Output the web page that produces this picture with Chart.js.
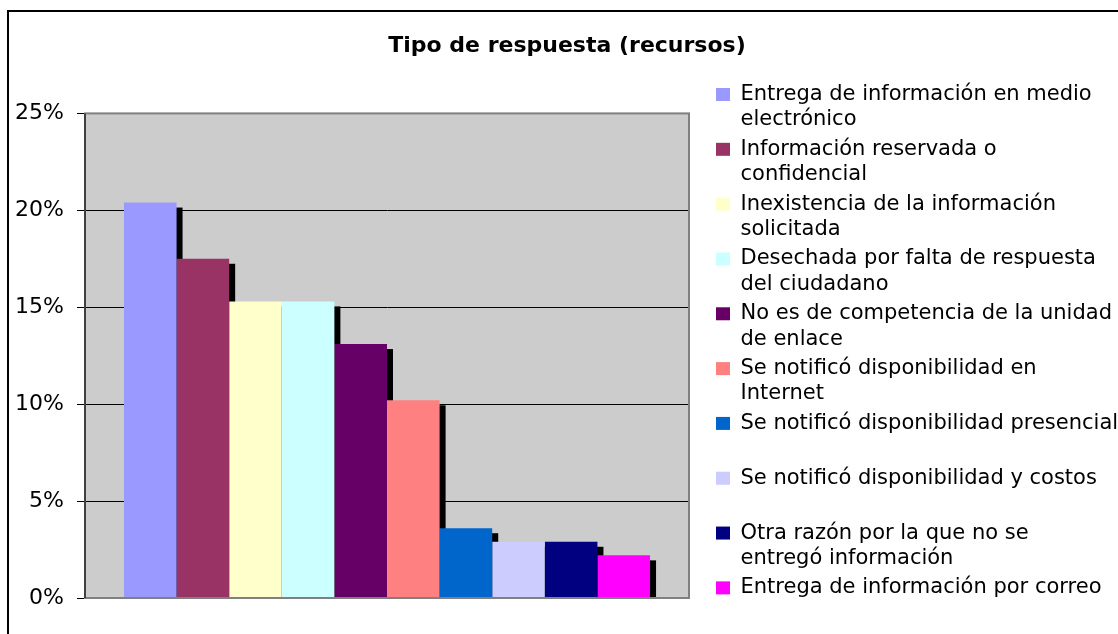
<!DOCTYPE html>
<html>
<head>
<meta charset="utf-8">
<script src="https://cdn.jsdelivr.net/npm/chart.js@4"></script>
<style>
  html, body { margin: 0; padding: 0; background: #fff; overflow: hidden; }
  canvas { display: block; }
</style>
</head>
<body>
<canvas id="chart" width="1134" height="634"></canvas>
<script>
const categories = [''];
const seriesNames = [
  ['Entrega de información en medio', 'electrónico'],
  ['Información reservada o', 'confidencial'],
  ['Inexistencia de la información', 'solicitada'],
  ['Desechada por falta de respuesta', 'del ciudadano'],
  ['No es de competencia de la unidad', 'de enlace'],
  ['Se notificó disponibilidad en', 'Internet'],
  ['Se notificó disponibilidad presencial', ''],
  ['Se notificó disponibilidad y costos', ''],
  ['Otra razón por la que no se', 'entregó información'],
  'Entrega de información por correo'
];
const seriesValues = [20.4, 17.5, 15.3, 15.3, 13.1, 10.2, 3.6, 2.9, 2.9, 2.2];
const seriesColors = ['#9999FF', '#993366', '#FFFFCC', '#CCFFFF', '#660066',
                      '#FF8080', '#0066CC', '#CCCCFF', '#000080', '#FF00FF'];
const yMin = 0, yMax = 25, yStep = 5;

const FONT = "'DejaVu Sans', Verdana, sans-serif";

// plot background + outer frame
const plotBack = {
  id: 'plotBack',
  beforeDraw(chart) {
    const {ctx, chartArea: a} = chart;
    ctx.save();
    ctx.strokeStyle = '#000';
    ctx.lineWidth = 2;
    ctx.strokeRect(8, 11, 3000, 3000);
    ctx.fillStyle = '#CCCCCC';
    ctx.fillRect(a.left, a.top, a.width, a.height);
    ctx.restore();
  },
  afterDatasetsDraw(chart) {
    const {ctx, chartArea: a} = chart;
    ctx.save();
    ctx.strokeStyle = '#808080';
    ctx.lineWidth = 2;
    ctx.strokeRect(a.left, a.top, a.width, a.height);
    ctx.strokeStyle = '#404040';
    ctx.beginPath();
    ctx.moveTo(a.left, a.top);
    ctx.lineTo(a.left, a.bottom);
    ctx.stroke();
    ctx.restore();
  }
};

// black drop shadow behind each bar, like the old Excel look
const barShadow = {
  id: 'barShadow',
  beforeDatasetsDraw(chart) {
    const {ctx, chartArea: a} = chart;
    ctx.save();
    ctx.beginPath();
    ctx.rect(a.left, a.top, a.width, a.height);
    ctx.clip();
    ctx.fillStyle = '#000';
    chart.data.datasets.forEach((ds, i) => {
      chart.getDatasetMeta(i).data.forEach(bar => {
        const p = bar.getProps(['x', 'y', 'base', 'width'], true);
        ctx.fillRect(p.x - p.width / 2 + 6, p.y + 5, p.width, p.base - p.y);
      });
    });
    ctx.restore();
  }
};

// fixed legend width so the text can run past the right edge
const legendWidth = {
  id: 'legendWidth',
  beforeInit(chart) {
    const fit = chart.legend.fit;
    chart.legend.fit = function () {
      fit.bind(chart.legend)();
      this.width = 422;
    };
  }
};

const datasets = seriesNames.map((name, i) => ({
  label: name,
  data: [seriesValues[i]],
  backgroundColor: seriesColors[i],
  borderWidth: 0
}));

new Chart(document.getElementById('chart'), {
  type: 'bar',
  data: { labels: categories, datasets: datasets },
  plugins: [legendWidth, plotBack, barShadow],
  options: {
    responsive: false,
    animation: false,
    devicePixelRatio: 1,
    categoryPercentage: 0.871,
    barPercentage: 1,
    plugins: {
      tooltip: { enabled: false },
      title: {
        display: true,
        text: 'Tipo de respuesta (recursos)',
        color: '#000',
        font: { family: FONT, size: 22, weight: 'bold', lineHeight: 1.2 },
        padding: { top: 33, bottom: 54 }
      },
      legend: {
        position: 'right',
        align: 'start',
        title: { display: true, text: '', font: { size: 10, lineHeight: 1 }, padding: { top: 70, bottom: 0 } },
        labels: {
          color: '#000',
          font: { family: FONT, size: 21, lineHeight: 1.21 },
          boxWidth: 14,
          boxHeight: 13,
          padding: 4
        }
      }
    },
    scales: {
      x: {
        display: true,
        grid: { display: false, drawTicks: false },
        ticks: { display: false },
        border: { display: false },
        afterFit(s) { s.height = 36; }
      },
      y: {
        min: yMin,
        max: yMax,
        ticks: {
          stepSize: yStep,
          color: '#000',
          padding: 13,
          font: { family: FONT, size: 22 },
          callback: v => v + '%'
        },
        grid: {
          color: c => (c.tick && (c.tick.value === yMin || c.tick.value === yMax)) ? 'rgba(0,0,0,0)' : '#000',
          tickColor: '#000',
          tickLength: 8,
          lineWidth: 1
        },
        border: { display: true, color: '#000', width: 1 },
        afterFit(s) { s.width = 85; }
      },
      y2: {
        position: 'right',
        display: true,
        grid: { display: false, drawTicks: false },
        ticks: { display: false },
        border: { display: false },
        afterFit(s) { s.width = 23; }
      }
    }
  }
});
</script>
</body>
</html>
